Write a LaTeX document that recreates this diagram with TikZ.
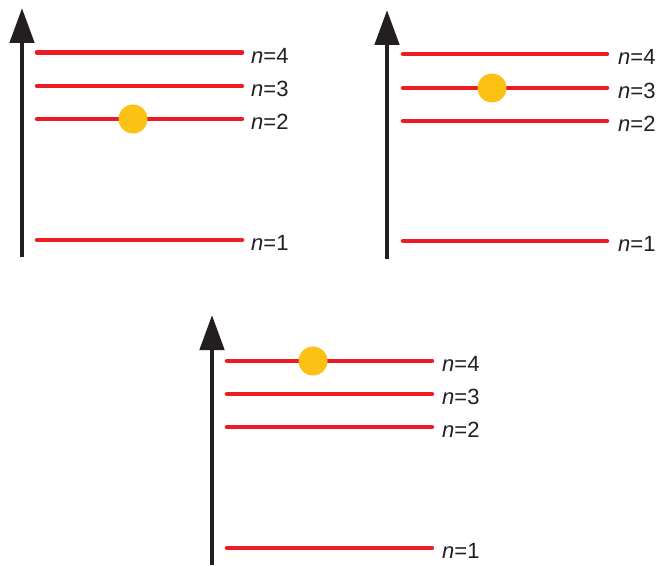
\documentclass[tikz,border=0pt]{standalone}
\usepackage{fontspec}
\setmainfont{Liberation Sans}
\usetikzlibrary{arrows.meta}
\definecolor{lvlred}{RGB}{237,28,36}
\definecolor{dotyel}{RGB}{253,192,20}
\definecolor{axisblk}{RGB}{35,31,32}
\tikzset{
  level/.style={draw=lvlred, line width=4.5pt, line cap=round},
  axisarrow/.style={draw=axisblk, line width=4.8pt, -{Triangle[length=35pt,width=24pt]}},
  lbl/.style={anchor=west, inner sep=0pt, font=\fontsize{22}{26}\selectfont, text=axisblk},
  electron/.style={circle, fill=dotyel, minimum size=29pt, inner sep=0pt}
}
\begin{document}
\begin{tikzpicture}[x=1pt,y=-1pt]
\useasboundingbox (0,0) rectangle (661,567);
% ---- panel A ----
\coordinate (Ab) at (22,257); \coordinate (At) at (22,8);
\draw[axisarrow] (Ab) -- (At);
\foreach \n/\y in {4/52.5,3/86,2/119,1/240}{
  \coordinate (Al\n s) at (37,\y); \coordinate (Al\n e) at (242,\y);
  \draw[level] (Al\n s) -- (Al\n e);
  \node[lbl] (Alab\n) at (251,\y+3) {\textit{n}=\n};
}
\node[electron] (Adot) at (133,119) {};
% ---- panel B ----
\coordinate (Bb) at (387,259); \coordinate (Bt) at (387,10);
\draw[axisarrow] (Bb) -- (Bt);
\foreach \n/\y in {4/54,3/88,2/121,1/241}{
  \coordinate (Bl\n s) at (403,\y); \coordinate (Bl\n e) at (607,\y);
  \draw[level] (Bl\n s) -- (Bl\n e);
  \node[lbl] (Blab\n) at (618,\y+3) {\textit{n}=\n};
}
\node[electron] (Bdot) at (492,88) {};
% ---- panel C ----
\coordinate (Cb) at (212,565); \coordinate (Ct) at (212,315);
\draw[axisarrow] (Cb) -- (Ct);
\foreach \n/\y in {4/361,3/394,2/427,1/548}{
  \coordinate (Cl\n s) at (227,\y); \coordinate (Cl\n e) at (432,\y);
  \draw[level] (Cl\n s) -- (Cl\n e);
  \node[lbl] (Clab\n) at (442,\y+3) {\textit{n}=\n};
}
\node[electron] (Cdot) at (313,361) {};
\end{tikzpicture}
\end{document}
